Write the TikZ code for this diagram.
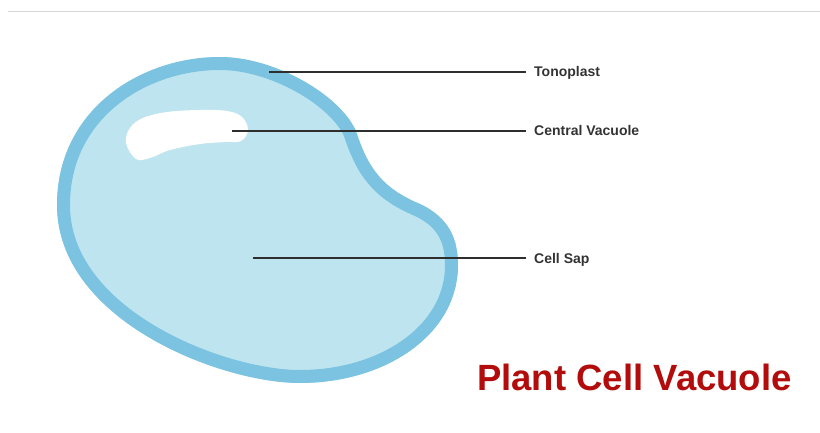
\documentclass[tikz,border=0pt]{standalone}
\usepackage{fontspec}
\setmainfont{Liberation Sans}
\definecolor{tonoplastblue}{HTML}{7CC3E2}
\definecolor{sapblue}{HTML}{BEE5EF}
\definecolor{labelgray}{HTML}{333333}
\definecolor{titlered}{HTML}{B30C0C}
\definecolor{rulegray}{HTML}{D6D6D6}
\tikzset{
  leader/.style={line width=1.1pt, draw=labelgray!90!black},
  partlabel/.style={anchor=west, inner xsep=8pt, inner ysep=0pt,
    text height=10pt, text depth=0pt, font=\fontsize{14}{16}\selectfont\bfseries,
    text=labelgray}
}
\begin{document}
\begin{tikzpicture}[x=1pt, y=-1pt]
            \useasboundingbox (0,0) rectangle (820,433);
            
            % Thin rule along the top
            \draw [rulegray, line width=1pt] (8,12) -- (820,12);%
            
            % Vacuole outline: top, neck, lobe, bottom, left side
            \def\vacuolepath{(220,57) .. controls (275,57) and (340,95) .. (356,131)
              .. controls (368,168) and (382,188) .. (420,204)
              .. controls (450,218) and (458,240) .. (458,265)
              .. controls (458,335) and (385,383) .. (300,383)
              .. controls (220,383) and (57,320) .. (57,205)
              .. controls (57,110) and (140,57) .. cycle}
            
            % Sap fill, tonoplast as inner stroke clipped to the outline
            \begin{scope}
            \clip \vacuolepath;
            \fill [sapblue] \vacuolepath;%
            \draw [tonoplastblue, line width=26pt] \vacuolepath;%
            \end{scope}
            
            % White highlight
            \fill [white] plot [smooth cycle, tension=0.6] coordinates {(126,143) (130,128) (143,118) (167,112) (200,110) (227,111) (242,117) (248,130) (241,141) (226,142) (200,144) (170,150) (150,158) (136,159)};%
            
            % Marking points on the vacuole
            \coordinate (tonoplastpt) at (269,72);%
            \coordinate (centralpt) at (232,131);%
            \coordinate (cellsappt) at (253,258);%
            
            % Labels
            \node (tonoplast) [partlabel] at (526,72) {Tonoplast};%
            \node (central) [partlabel] at (526,131) {Central Vacuole};%
            \node (cellsap) [partlabel] at (526,258) {Cell Sap};%
            
            % Leader lines
            \draw [leader] (tonoplastpt) -- (tonoplast.west);%
            \draw [leader] (centralpt) -- (central.west);%
            \draw [leader] (cellsappt) -- (cellsap.west);%
            
            % Title
            \node (title) [anchor=base west, inner sep=0pt, text=titlered,
              font=\fontsize{36.5}{40}\selectfont\bfseries] at (477,390) {Plant Cell Vacuole};%
\end{tikzpicture}
\end{document}
